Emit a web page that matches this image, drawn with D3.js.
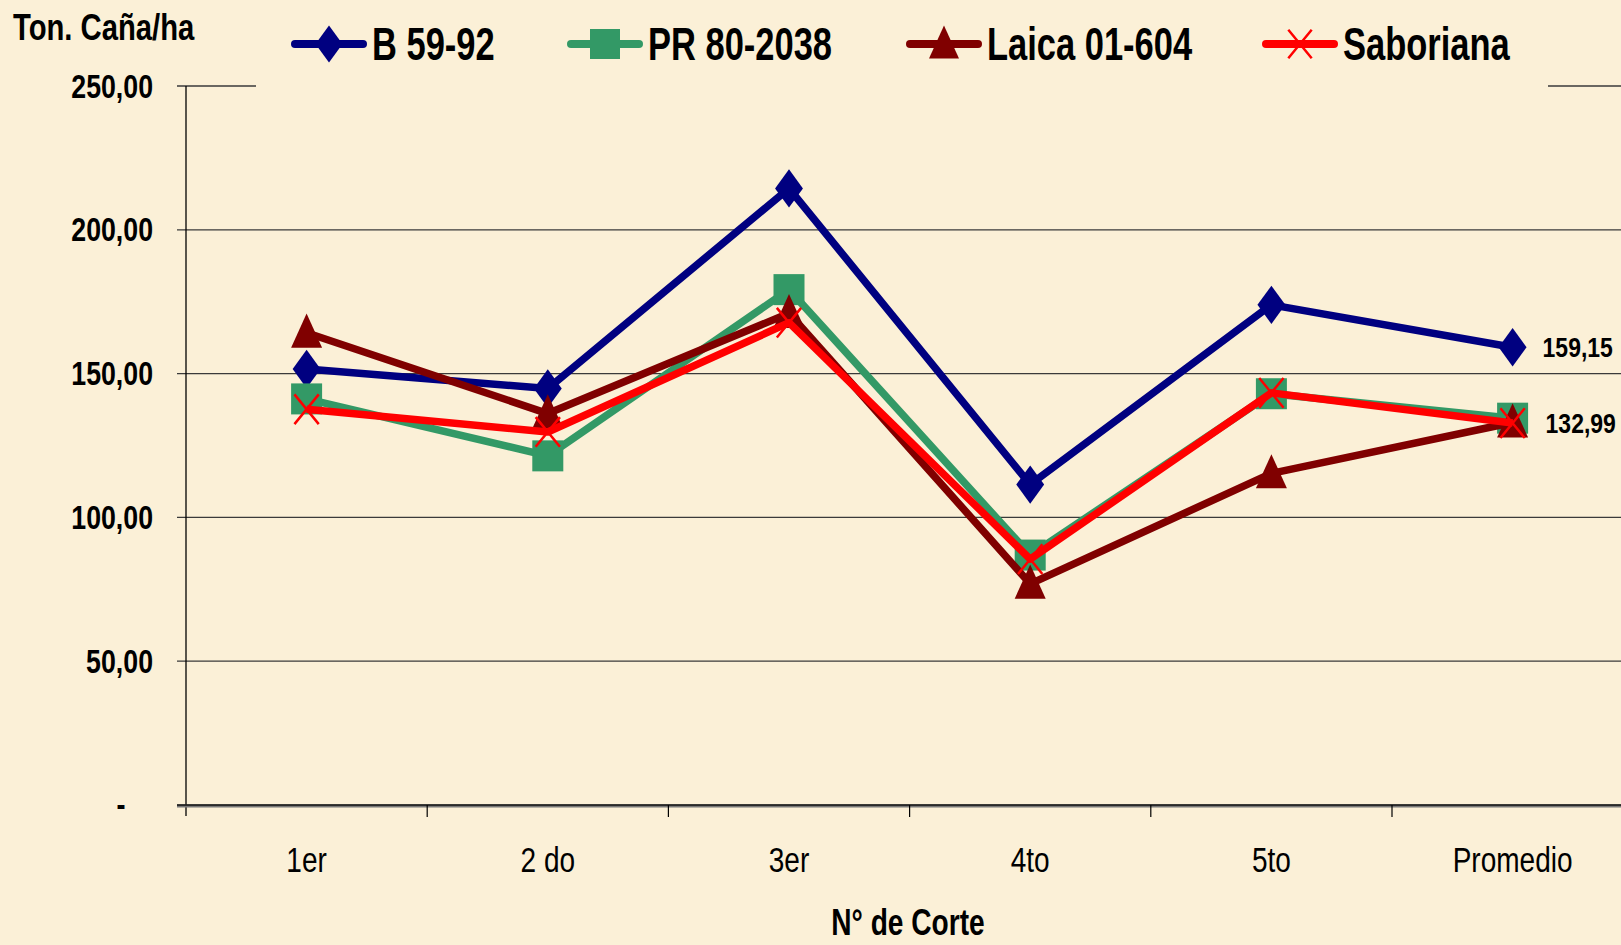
<!DOCTYPE html>
<html>
<head>
<meta charset="utf-8">
<script src="https://cdn.jsdelivr.net/npm/d3@7"></script>
<style>
  body { margin: 0; background: #fbf0d7; }
  svg { display: block; }
  text { font-family: "Liberation Sans", Arial, sans-serif; }
</style>
</head>
<body>
<script>
// categories (N° de Corte)
var cortes = ["1er", "2 do", "3er", "4to", "5to", "Promedio"];

// series values, Ton. Caña/ha
var b5992 = [151.6, 144.8, 214.4, 111.4, 173.9, 159.15];
var pr802038 = [141.2, 121.4, 179.2, 86.9, 143.0, 134.5];
var laica01604 = [164.2, 136.1, 171.0, 76.9, 115.3, 132.99];
var saboriana = [137.6, 129.7, 167.7, 85.5, 143.3, 132.8];

var seriesNames = ["B 59-92", "PR 80-2038", "Laica 01-604", "Saboriana"];
var yTicks = [0, 50, 100, 150, 200, 250];

// labels shown on the last point
var endLabels = [{ serie: 0, text: "159,15" }, { serie: 2, text: "132,99" }];

var width = 1621, height = 945;

var series = [
  { name: seriesNames[0], values: b5992, color: "#000080", marker: "diamond" },
  { name: seriesNames[1], values: pr802038, color: "#339966", marker: "square" },
  { name: seriesNames[2], values: laica01604, color: "#800000", marker: "triangle" },
  { name: seriesNames[3], values: saboriana, color: "#ff0000", marker: "x" }
];

var svg = d3.select("body")
            .append("svg")
            .attr("width", width)
            .attr("height", height);

// narrow text: there is no Arial Narrow, so squeeze Liberation Sans horizontally
function narrowText(parent, x, y, size, sx, anchor, bold, txt) {
  return parent.append("text")
               .attr("transform", "translate(" + x + "," + y + ") scale(" + sx + ",1)")
               .attr("text-anchor", anchor)
               .attr("font-size", size)
               .attr("font-weight", bold ? "bold" : "normal")
               .text(txt);
}

// plot area (runs past the right edge, like the original slide)
var x = d3.scaleBand()
          .domain(cortes)
          .range([186, 186 + 6 * 241.2]);

var y = d3.scaleLinear()
          .domain([0, 250])
          .range([805, 86]);

var fmt = function(v) {
  if (v == 0) return "-";
  return d3.format(".2f")(v).replace(".", ",");
};

// gridlines
svg.append("g")
   .selectAll("line")
   .data(yTicks.filter(function(d) { return d > 0; }))
   .enter().append("line")
   .attr("x1", 177)
   .attr("x2", width)
   .attr("y1", function(d) { return y(d); })
   .attr("y2", function(d) { return y(d); })
   .attr("stroke", "#3a3a3a")
   .attr("stroke-width", 1.3);

// y axis labels
var yLab = svg.append("g");
yTicks.forEach(function(d) {
  if (d == 0) {
    narrowText(yLab, 121, y(d) + 11, 33, 0.82, "middle", true, fmt(d));
  } else {
    narrowText(yLab, 153, y(d) + 11.5, 32.6, 0.82, "end", true, fmt(d));
  }
});

// y axis line
svg.append("line")
   .attr("x1", 186).attr("x2", 186)
   .attr("y1", 86).attr("y2", 816)
   .attr("stroke", "#000").attr("stroke-width", 1.3);

// x axis line + ticks
svg.append("line")
   .attr("x1", 177).attr("x2", width)
   .attr("y1", 806).attr("y2", 806)
   .attr("stroke", "#777").attr("stroke-width", 3);
svg.append("line")
   .attr("x1", 177).attr("x2", width)
   .attr("y1", 805).attr("y2", 805)
   .attr("stroke", "#111").attr("stroke-width", 1.5);

svg.append("g")
   .selectAll("line")
   .data(cortes)
   .enter().append("line")
   .attr("x1", function(d) { return x(d) + x.bandwidth(); })
   .attr("x2", function(d) { return x(d) + x.bandwidth(); })
   .attr("y1", 805)
   .attr("y2", 817)
   .attr("stroke", "#000").attr("stroke-width", 1.2);

// x tick labels
var xLab = svg.append("g");
cortes.forEach(function(d) {
  narrowText(xLab, x(d) + x.bandwidth() / 2, 872, 35, 0.8, "middle", false, d);
});

// axis titles
narrowText(svg, 908, 935, 37, 0.76, "middle", true, "N° de Corte");
narrowText(svg, 13, 40, 37, 0.79, "start", true, "Ton. Caña/ha");

// marker drawing
function drawMarker(sel, marker, color, s) {
  if (marker == "diamond") {
    sel.append("path")
       .attr("d", "M0," + (-s * 0.62) + "L" + (s * 0.45) + ",0L0," + (s * 0.62) + "L" + (-s * 0.45) + ",0Z")
       .attr("fill", color);
  } else if (marker == "square") {
    sel.append("rect")
       .attr("x", -s / 2).attr("y", -s / 2)
       .attr("width", s).attr("height", s)
       .attr("fill", color);
  } else if (marker == "triangle") {
    sel.append("path")
       .attr("d", "M0," + (-s * 0.62) + "L" + (s * 0.5) + "," + (s * 0.48) + "L" + (-s * 0.5) + "," + (s * 0.48) + "Z")
       .attr("fill", color);
  } else {
    sel.append("path")
       .attr("d", "M" + (-s * 0.45) + "," + (-s * 0.55) + "L" + (s * 0.45) + "," + (s * 0.55) +
                  "M" + (s * 0.45) + "," + (-s * 0.55) + "L" + (-s * 0.45) + "," + (s * 0.55))
       .attr("stroke", color)
       .attr("stroke-width", 2.5)
       .attr("fill", "none");
  }
}

var line = d3.line()
             .x(function(d, i) { return x(cortes[i]) + x.bandwidth() / 2; })
             .y(function(d) { return y(d); });

// draw the series
series.forEach(function(s) {
  var g = svg.append("g");
  g.append("path")
   .datum(s.values)
   .attr("d", line)
   .attr("fill", "none")
   .attr("stroke", s.color)
   .attr("stroke-width", 7.5)
   .attr("stroke-linejoin", "round");
  s.values.forEach(function(v, i) {
    var m = g.append("g")
             .attr("transform", "translate(" + (x(cortes[i]) + x.bandwidth() / 2) + "," + y(v) + ")");
    drawMarker(m, s.marker, s.color, s.marker == "x" ? 27 : 31);
  });
});

// end labels
var endG = svg.append("g");
endLabels.forEach(function(d) {
  var lx = x(cortes[5]) + x.bandwidth() / 2 + 30 + (d.serie == 2 ? 3 : 0);
  narrowText(endG, lx, y(series[d.serie].values[5]) + 10, 28, 0.82, "start", true, d.text);
});

// legend (covers the top gridline)
var legend = svg.append("g");
legend.append("rect")
      .attr("x", 256).attr("y", 4)
      .attr("width", 1548 - 256).attr("height", 92)
      .attr("fill", "#fbf0d7");

var legendX = [295, 571, 910, 1266];
series.forEach(function(s, i) {
  var lg = legend.append("g").attr("transform", "translate(" + legendX[i] + ",44)");
  lg.append("line")
    .attr("x1", 0).attr("x2", 68)
    .attr("stroke", s.color)
    .attr("stroke-width", 8)
    .attr("stroke-linecap", "round");
  var m = lg.append("g").attr("transform", "translate(34,0)");
  drawMarker(m, s.marker, s.color, s.marker == "x" ? 26 : 30);
  narrowText(lg, 77, 16, 46, 0.75, "start", true, s.name);
});
</script>
</body>
</html>
